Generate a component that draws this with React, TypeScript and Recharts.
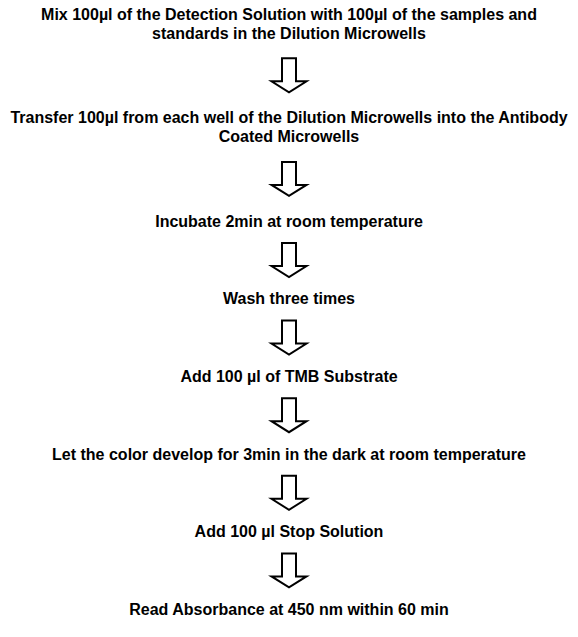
import React from 'react';
import { ScatterChart, Scatter, XAxis, YAxis } from 'recharts';

// protocol steps, one entry per box; each inner array is the wrapped lines
const steps: string[][] = [
  ['Mix 100µl of the Detection Solution with 100µl of the samples and', 'standards in the Dilution Microwells'],
  ['Transfer 100µl from each well of the Dilution Microwells into the Antibody', 'Coated Microwells'],
  ['Incubate 2min at room temperature'],
  ['Wash three times'],
  ['Add 100 µl of TMB Substrate'],
  ['Let the color develop for 3min in the dark at room temperature'],
  ['Add 100 µl Stop Solution'],
  ['Read Absorbance at 450 nm within 60 min'],
];

const W = 578;
const H = 637;
const FIRST = 14; // centre of first text line
const LINE = 19; // line spacing inside a step
const STEP = 77.6; // single line step pitch
const EXTRA = 26; // extra pitch per added line
const ARROW_H = 34;

// build rows for the scatter layers (y in px units of the hidden y axis)
const textRows: { x: number; y: number; label: string }[] = [];
const arrowRows: { x: number; y: number }[] = [];
let y0 = FIRST;
steps.forEach((lines, i) => {
  lines.forEach((l, j) => textRows.push({ x: 0.5, y: y0 + j * LINE, label: l }));
  const next = y0 + STEP + (lines.length - 1) * EXTRA;
  if (i < steps.length - 1) {
    const last = y0 + (lines.length - 1) * LINE;
    arrowRows.push({ x: 0.5, y: (last + next) / 2 });
  }
  y0 = next;
});

const TextShape = (props: any) => {
  const { cx, cy, payload } = props;
  return (
    <text
      x={cx}
      y={cy}
      textAnchor="middle"
      dominantBaseline="central"
      fontFamily="'Liberation Sans', Arial, sans-serif"
      fontWeight="bold"
      fontSize={16}
      fill="#000"
    >
      {payload.label}
    </text>
  );
};

const ArrowShape = (props: any) => {
  const { cx, cy } = props;
  const top = cy - ARROW_H / 2;
  const sw = 7;
  const hw = 17.5;
  const neck = top + 23;
  const tip = top + ARROW_H;
  const d = `M${cx - sw},${top} L${cx + sw},${top} L${cx + sw},${neck} L${cx + hw},${neck} L${cx},${tip} L${cx - hw},${neck} L${cx - sw},${neck} Z`;
  return <path d={d} fill="#fff" stroke="#000" strokeWidth={2} strokeLinejoin="miter" />;
};

const App: React.FC = () => {
  return (
    <div style={{ position: 'absolute', left: 0, top: 0, width: W, height: H, background: '#fff' }}>
      <ScatterChart width={W} height={H} margin={{ top: 0, right: 0, bottom: 0, left: 0 }}>
        <XAxis type="number" dataKey="x" domain={[0, 1]} hide />
        <YAxis type="number" dataKey="y" domain={[0, H]} reversed hide />
        <Scatter data={arrowRows} shape={<ArrowShape />} isAnimationActive={false} />
        <Scatter data={textRows} shape={<TextShape />} isAnimationActive={false} />
      </ScatterChart>
    </div>
  );
};

export default App;
